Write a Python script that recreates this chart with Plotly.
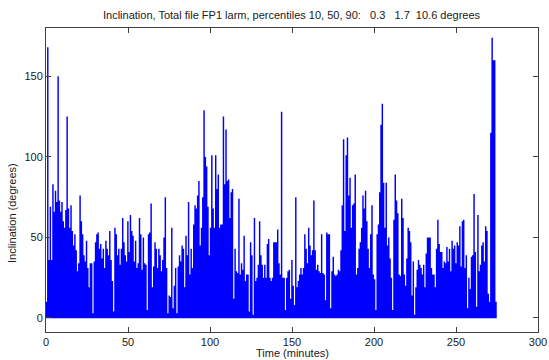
import numpy as np
import plotly.graph_objects as go

# Peak inclination (degrees) of each short burst, read left to right off the picture
peaks_0_50 = [10, 168, 36, 69, 36, 83, 66, 79, 72, 150, 73, 66, 72, 60, 56, 67, 125, 68, 56, 70,
              54, 45, 52, 42, 29, 34, 76, 60, 52, 39, 35, 48, 31, 19, 34, 34, 3, 35, 47, 52,
              53, 43, 46, 37, 43, 31, 48, 43, 39, 54, 36, 23, 4, 56, 52, 39, 43, 33, 43, 62,
              47, 39, 35, 60]
peaks_50_103 = [41, 64, 54, 51, 35, 48, 31, 34, 62, 52, 30, 50, 34, 33, 5, 52, 53, 71, 19, 32,
                47, 43, 31, 43, 39, 29, 36, 50, 75, 31, 3, 14, 13, 56, 6, 20, 31, 3, 32, 39,
                35, 45, 43, 19, 51, 39, 72, 27, 43, 31, 58, 70, 68, 76, 85, 45, 56, 75, 129, 100,
                94, 69, 39, 56, 101, 68, 56]
peaks_103_154 = [101, 80, 89, 56, 58, 58, 125, 83, 117, 85, 86, 62, 78, 80, 12, 43, 29, 28, 74, 27,
                 34, 30, 51, 23, 27, 27, 4, 47, 39, 2, 62, 23, 25, 33, 60, 39, 33, 25, 33, 25,
                 46, 49, 25, 23, 25, 47, 47, 47, 55, 34, 27, 128, 25, 25, 5, 25, 29, 30, 12, 36,
                 20, 8, 75, 19]
peaks_154_206 = [23, 27, 31, 27, 31, 52, 43, 34, 56, 45, 39, 42, 73, 42, 30, 33, 29, 28, 52, 28,
                 27, 11, 53, 52, 52, 6, 29, 38, 27, 26, 27, 30, 29, 42, 70, 111, 54, 101, 112, 76,
                 87, 56, 70, 71, 89, 27, 31, 43, 47, 56, 76, 68, 79, 60, 43, 31, 52, 70, 27, 24,
                 5, 52, 58, 78, 120, 133]
peaks_206_258 = [84, 56, 84, 45, 50, 37, 25, 5, 61, 89, 73, 65, 27, 26, 74, 62, 27, 20, 37, 56,
                 54, 47, 14, 35, 2, 19, 30, 36, 33, 31, 27, 33, 19, 40, 50, 50, 50, 31, 27, 27,
                 19, 43, 61, 46, 41, 41, 31, 35, 34, 44, 35, 43, 29, 48, 43, 45, 34, 47, 45, 57,
                 32, 60, 61, 31]
peaks_258_275 = [39, 6, 25, 18, 38, 39, 77, 41, 7, 64, 29, 33, 45, 47, 35, 57, 54, 15, 10, 115,
                 174, 160, 160, 10]

# Resting level between bursts (10th percentile from the title)
trough = 0.3
start_minute = 0.3
end_minute = 274.4

x_ticks = [0, 50, 100, 150, 200, 250, 300]
y_ticks = [0, 50, 100, 150]

title_text = ("Inclination, Total file FP1 larm, percentiles 10, 50, 90:"
              "\u00a0\u00a0\u00a00.3\u00a0\u00a0\u00a01.7\u00a0\u00a010.6 degrees")

peaks = (peaks_0_50 + peaks_50_103 + peaks_103_154 + peaks_154_206
         + peaks_206_258 + peaks_258_275)
t = np.linspace(start_minute, end_minute, len(peaks))
xs, ys = [], []
for ti, p in zip(t, peaks):
    xs += [ti, ti, ti]
    ys += [trough, p, trough]

FONT = "Liberation Sans, Arial, Helvetica, sans-serif"
FS = 11

fig = go.Figure()
fig.add_trace(go.Scatter(x=xs, y=ys, mode="lines",
                         line=dict(color="#0000ff", width=1.45), hoverinfo="skip",
                         showlegend=False))

axis_common = dict(showline=True, linecolor="#404040", linewidth=1, mirror="ticks",
                   ticks="inside", ticklen=5, tickcolor="#404040", tickwidth=1,
                   showgrid=False, zeroline=False, automargin=False,
                   tickfont=dict(family=FONT, size=FS, color="#202020"))

fig.update_layout(
    width=549, height=360,
    margin=dict(l=46, r=11, t=28, b=28),
    paper_bgcolor="white", plot_bgcolor="white",
    hovermode=False,
    xaxis=dict(range=[0, 300], tickvals=x_ticks, **axis_common),
    yaxis=dict(range=[-8.7, 180], tickvals=y_ticks, **axis_common),
    annotations=[
        dict(text=title_text, xref="paper", yref="paper", x=0.5, y=1,
             yshift=13, showarrow=False, xanchor="center", yanchor="middle",
             font=dict(family=FONT, size=FS, color="#202020")),
        dict(text="Time (minutes)", xref="paper", yref="paper", x=0.5, y=0,
             yshift=-21, showarrow=False, xanchor="center", yanchor="middle",
             font=dict(family=FONT, size=FS, color="#202020")),
        dict(text="Inclination (degrees)", xref="paper", yref="paper", x=0, y=0.5,
             xshift=-34, yshift=-33, showarrow=False, textangle=-90,
             xanchor="center", yanchor="middle",
             font=dict(family=FONT, size=FS, color="#202020")),
    ],
)

fig.write_html("out.html", config={"displayModeBar": False},
               post_script="document.body.style.margin='0';")
